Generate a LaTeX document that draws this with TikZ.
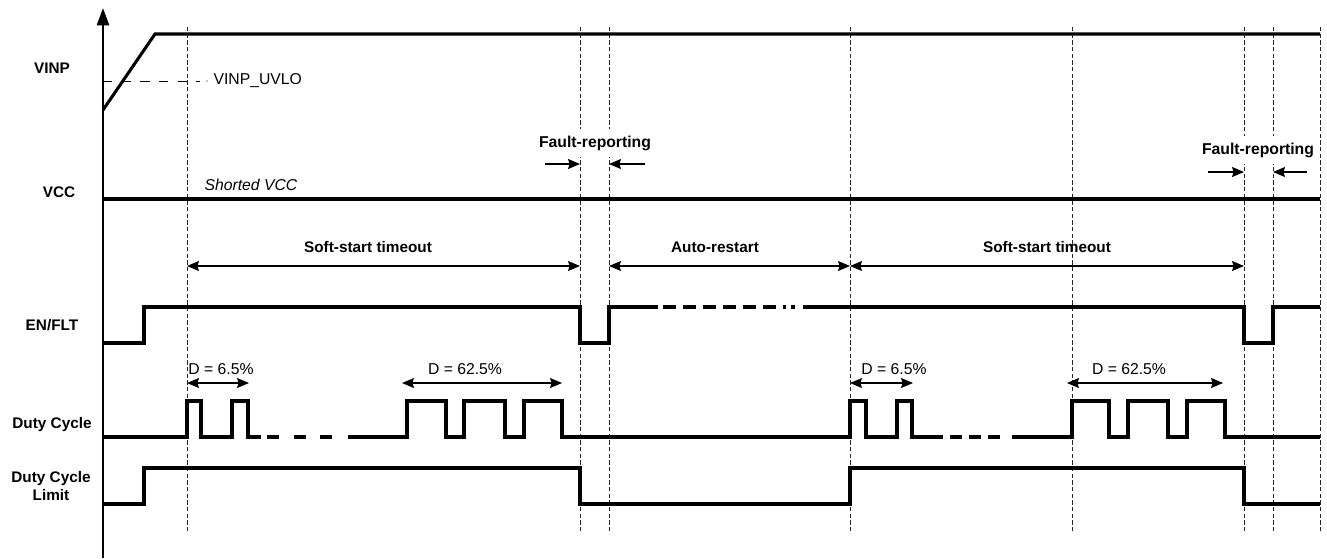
\documentclass[tikz,border=0pt]{standalone}
\usepackage{fontspec}
\setmainfont{Liberation Sans}
\usetikzlibrary{arrows.meta}
\begin{document}
\begin{tikzpicture}[x=0.75pt,y=-0.75pt,
  sig/.style={line width=2.3pt,line join=miter},
  sigdash/.style={line width=2.3pt,dash pattern=#1},
  guide/.style={line width=0.75pt,black!85,dash pattern=on 3.2pt off 1.8pt},
  tipd/.tip={Stealth[length=9pt,width=7.5pt,inset=1.2pt]},
  dim/.style={line width=0.8pt,tipd-tipd},
  rdim/.style={line width=0.8pt,-tipd},
  lbl/.style={font=\fontsize{11.5}{13.5}\selectfont\bfseries,align=center,inner sep=1pt},
  txt/.style={font=\fontsize{11.8}{13}\selectfont,inner sep=1pt},
  fault/.style={font=\fontsize{11.8}{13}\selectfont\bfseries,fill=white,inner xsep=2pt,inner ysep=5pt},
]
\useasboundingbox (0,0) rectangle (1327,558);

% guide lines
\foreach \gx/\gn in {187/g1,580/g2,609/g3,850/g4,1072/g5,1244/g6,1273/g7,1320/g8}{
  \coordinate (\gn top) at (\gx,27);
  \coordinate (\gn bot) at (\gx,532);
  \draw[guide] (\gn top) -- (\gn bot);
}

% axis
\coordinate (axbot) at (103,558);
\coordinate (axtop) at (103,8);
\draw[line width=1.9pt,-{Triangle[length=13pt,width=9pt]}] (axbot) -- (axtop);

% VINP
\draw[sig] (103,110) -- (155,34) -- (1320,34);
\draw[line width=0.75pt,dash pattern=on 7pt off 7pt] (103,81) -- (200,81);
\fill (207,81) circle (0.5pt);
\node[txt,anchor=west] (uvlo) at (212,81) {VINP\_UVLO};

% VCC
\draw[sig] (103,199) -- (1320,199);
\node[txt,anchor=west,font=\fontsize{11.8}{13}\selectfont\itshape] (short) at (203,185) {Shorted VCC};

% EN/FLT
\draw[sig] (103,343) -- (144,343) -- (144,307) -- (580,307) -- (580,343) -- (609,343) -- (609,307) -- (658,307);
\draw[sigdash={on 9.75pt off 5.25pt}] (663,307) -- (786,307);
\draw[line width=2.3pt] (791,307) -- (795,307);
\draw[sig] (803,307) -- (1244,307) -- (1244,343) -- (1273,343) -- (1273,307) -- (1320,307);

% Duty Cycle
\draw[sig] (103,437) -- (187,437) -- (187,401) -- (201,401) -- (201,437) -- (232,437) -- (232,401) -- (248,401) -- (248,437) -- (261,437);
\draw[sigdash={on 9pt off 10.9pt}] (267,437) -- (336,437);
\draw[sig] (348,437) -- (407,437) -- (407,401) -- (446,401) -- (446,437) -- (464,437) -- (464,401) -- (505,401) -- (505,437) -- (524,437) -- (524,401) -- (562,401) -- (562,437)
  -- (850,437) -- (850,401) -- (866,401) -- (866,437) -- (897,437) -- (897,401) -- (912,401) -- (912,437) -- (943,437);
\draw[sigdash={on 9pt off 5.25pt}] (950,437) -- (1000,437);
\draw[sig] (1012,437) -- (1072,437) -- (1072,401) -- (1109,401) -- (1109,437) -- (1128,437) -- (1128,401) -- (1168,401) -- (1168,437) -- (1187,437) -- (1187,401) -- (1225,401) -- (1225,437) -- (1320,437);

% Duty Cycle Limit
\draw[sig] (103,504) -- (144,504) -- (144,468) -- (580,468) -- (580,504) -- (850,504) -- (850,468) -- (1244,468) -- (1244,504) -- (1320,504);

% left labels
\node[lbl] (lvinp) at (52,68) {VINP};
\node[lbl] (lvcc) at (59,192) {VCC};
\node[lbl] (len) at (52,325) {EN/FLT};
\node[lbl] (ldc) at (52,425) {Duty Cycle};
\node[lbl] (ldcl) at (51,486) {Duty Cycle\\Limit};

% interval arrows
\draw[dim] (187,266) -- (580,266);
\node[lbl] (ss1) at (368,247) {Soft-start timeout};
\draw[dim] (609,266) -- (850,266);
\node[lbl] (ar) at (715,247) {Auto-restart};
\draw[dim] (850,266) -- (1244,266);
\node[lbl] (ss2) at (1047,247) {Soft-start timeout};

% fault reporting
\node[fault] (fr1) at (595,143) {Fault-reporting};
\draw[rdim] (545,164) -- (580,164);
\draw[rdim] (645,164) -- (609,164);
\node[fault] (fr2) at (1258,150) {Fault-reporting};
\draw[rdim] (1208,172) -- (1244,172);
\draw[rdim] (1307,172) -- (1273,172);

% duty labels
\draw[dim] (187,383) -- (249,383);
\node[txt] (d1) at (221,369) {D = 6.5\%};
\draw[dim] (402,383) -- (562,383);
\node[txt] (d2) at (465,369) {D = 62.5\%};
\draw[dim] (850,383) -- (913,383);
\node[txt] (d3) at (894,369) {D = 6.5\%};
\draw[dim] (1067,383) -- (1223,383);
\node[txt] (d4) at (1129,369) {D = 62.5\%};
\end{tikzpicture}
\end{document}
